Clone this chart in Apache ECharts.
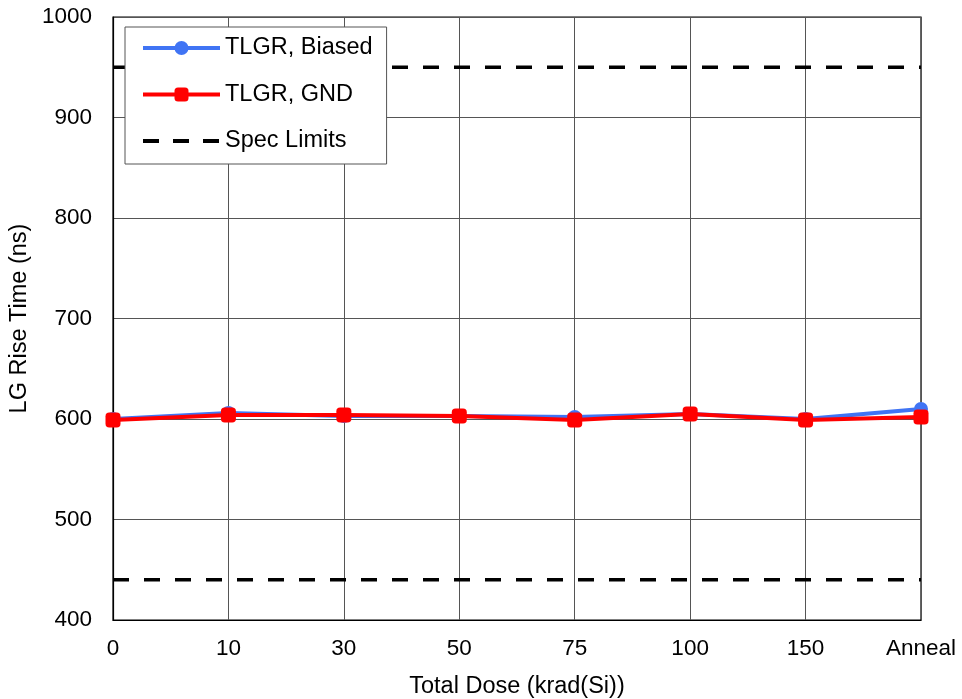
<!DOCTYPE html>
<html><head><meta charset="utf-8">
<script src="https://cdn.jsdelivr.net/npm/echarts@6/dist/echarts.min.js"></script>
<style>html,body{margin:0;padding:0;background:#fff}#c{width:962px;height:699px}</style>
</head><body><div id="c"></div>
<script>
const categories = ['0','10','30','50','75','100','150','Anneal'];
const biased = [600, 606, 603, 603, 602, 605, 600, 610];
const gnd = [599, 604, 604, 603, 599, 605, 599, 602];
const specUpper = [950, 950, 950, 950, 950, 950, 950, 950];
const specLower = [440, 440, 440, 440, 440, 440, 440, 440];
const yTicks = {min: 400, max: 1000, interval: 100};

const font = 'Liberation Sans, Arial, sans-serif';
const blue = '#4074f4', red = '#ff0000';
const chart = echarts.init(document.getElementById('c'));
const specStyle = {color:'#000', width:3.5, type:[16,15]};
chart.setOption({
  animation:false,
  textStyle:{fontFamily:font},
  grid:{left:113,right:41,top:17,bottom:79,show:true,borderColor:'#000',borderWidth:1.2,
        containLabel:false, outerBoundsMode:'none'},
  legend:{
    orient:'vertical', left:125, top:27, padding:[9,14,11,16],
    backgroundColor:'#fff', borderColor:'#555', borderWidth:1,
    itemWidth:77, itemHeight:17.5, itemGap:22.5,
    textStyle:{fontSize:23.5, lineHeight:24, color:'#000', fontFamily:font},
    data:[
      {name:'TLGR, Biased', lineStyle:{width:4}},
      {name:'TLGR, GND', lineStyle:{width:4}},
      {name:'Spec Limits', lineStyle:{width:4, type:[16,14]}, itemStyle:{opacity:0}}
    ]
  },
  xAxis:{
    type:'category', data:categories, boundaryGap:false,
    axisLine:{lineStyle:{color:'#000',width:1.2}}, axisTick:{show:false},
    axisLabel:{fontSize:22.5,color:'#000',margin:17,fontFamily:font},
    splitLine:{show:true,lineStyle:{color:'#555',width:1}},
    name:'Total Dose (krad(Si))', nameLocation:'middle', nameGap:55,
    nameTextStyle:{fontSize:23.5,color:'#000',fontFamily:font}
  },
  yAxis:{
    type:'value', min:yTicks.min, max:yTicks.max, interval:yTicks.interval,
    axisLine:{show:true,lineStyle:{color:'#000',width:1.2}}, axisTick:{show:false},
    axisLabel:{fontSize:22.5,color:'#000',margin:21,fontFamily:font,formatter:function(v){return String(v);}},
    splitLine:{show:true,lineStyle:{color:'#555',width:1}},
    name:'LG Rise Time (ns)', nameLocation:'middle', nameGap:81, nameRotate:90,
    nameTextStyle:{fontSize:23.5,color:'#000',fontFamily:font}
  },
  series:[
    {name:'Spec Limits', type:'line', data:specUpper, symbol:'none', lineStyle:specStyle, itemStyle:{color:'#000'}, z:1},
    {name:'Spec Limits', type:'line', data:specLower, symbol:'none', lineStyle:specStyle, itemStyle:{color:'#000'}, z:1},
    {name:'TLGR, Biased', type:'line', data:biased, symbol:'circle', symbolSize:14,
     lineStyle:{color:blue,width:4}, itemStyle:{color:blue}, z:3},
    {name:'TLGR, GND', type:'line', data:gnd, symbol:'roundRect', symbolSize:15,
     lineStyle:{color:red,width:4}, itemStyle:{color:red}, z:4}
  ]
});
</script></body></html>
